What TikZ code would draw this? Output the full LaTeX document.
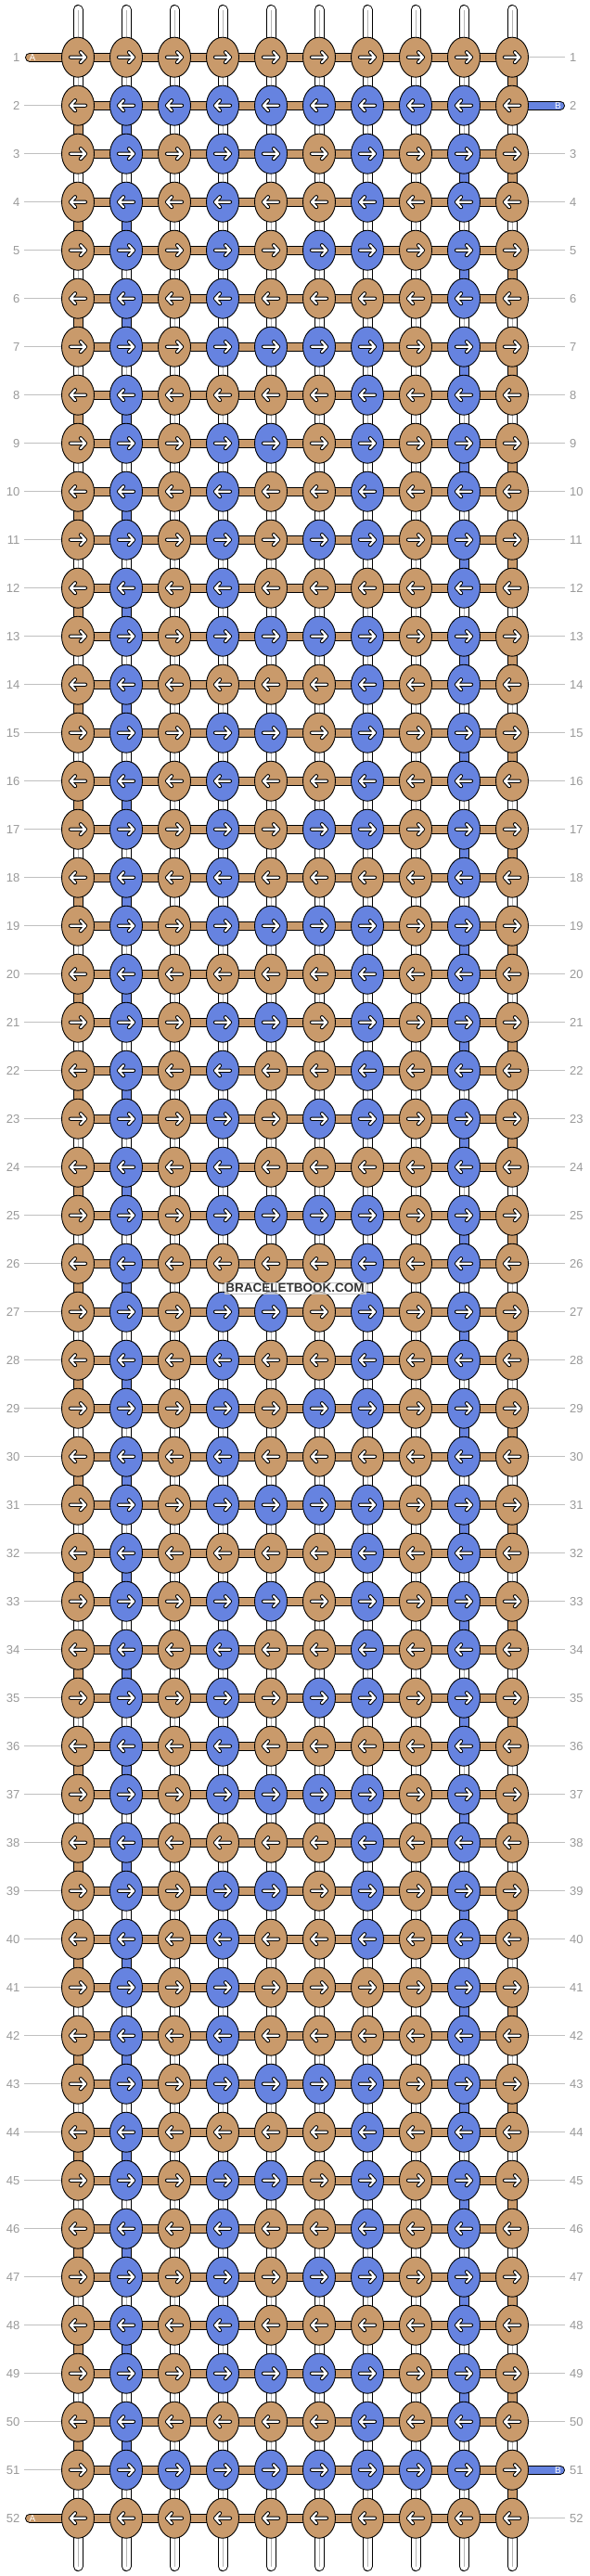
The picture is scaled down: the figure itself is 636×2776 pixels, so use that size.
\documentclass[tikz,border=0pt]{standalone}
\usepackage{fontspec}
\setmainfont{Liberation Sans}
\usetikzlibrary{shapes.geometric}
\pgfdeclarelayer{bg}
\pgfsetlayers{bg,main}
\definecolor{colA}{HTML}{C99A6B}
\definecolor{colB}{HTML}{6683E0}
\definecolor{lblgray}{HTML}{999999}
\definecolor{linegray}{HTML}{C0C0C0}
\definecolor{coregray}{HTML}{B4B4B4}
\definecolor{wmtext}{HTML}{333333}
\tikzset{
  knot/.style={ellipse, draw=black, line width=0.9pt, minimum width=35pt, minimum height=43pt, inner sep=0pt},
  hthread/.style={draw=black, line width=1pt, double=#1, double distance=8pt},
  vthread/.style={draw=black, line width=1pt, double=#1, double distance=9pt},
  tube/.style={draw=black, line width=1pt, double=white, double distance=9pt, line cap=round},
  core/.style={draw=coregray, line width=0.7pt},
  tailthread/.style={draw=black, line width=1pt, double=#1, double distance=8pt, line cap=round},
  arrowback/.style={draw=black, line width=4.2pt, line cap=round, line join=round},
  arrowfront/.style={draw=white, line width=2.2pt, line cap=round, line join=round},
  rowlabel/.style={text=lblgray, font=\fontsize{13}{15}\selectfont, inner sep=0pt},
  labelline/.style={draw=linegray, line width=0.9pt},
  tailtext/.style={text=white, font=\fontsize{10}{12}\selectfont, inner sep=0pt},
  watermark/.style={font=\bfseries\fontsize{13.5}{15}\selectfont, text=wmtext, fill=white, fill opacity=0.6, text opacity=1, draw=gray!45, inner sep=1.5pt}
}
\begin{document}
\begin{tikzpicture}[x=1pt,y=-1pt]
\useasboundingbox (0,0) rectangle (636,2776);
% knots
\foreach \v [count=\r] in {0,510,
  362,330,346,322,378,266,
  362,330,346,322,378,266,
  362,330,346,322,378,266,
  362,330,346,322,378,266,
  362,330,346,322,378,266,
  362,330,346,322,378,266,
  362,330,322,322,378,266,
  362,330,346,322,378,266,
  510,0} {
  \pgfmathsetmacro\yy{61.7+52*(\r-1)}
  \foreach \c in {1,...,10} {
    \pgfmathtruncatemacro\bit{mod(floor(\v/(2^(10-\c))),2)}
    \ifnum\bit=1 \def\kc{colB}\else\def\kc{colA}\fi
    \node[knot, fill=\kc] (k-\r-\c) at ({84+52*(\c-1)},\yy) {};
    \ifodd\r \def\dir{1}\else\def\dir{-1}\fi
    \begin{scope}[shift={(k-\r-\c.center)}, xscale=\dir]
      \draw[arrowback] (-8,0) -- (8,0) (3,-5.5) -- (8,0) -- (3,5.5);
      \draw[arrowfront] (-8,0) -- (8,0) (3,-5.5) -- (8,0) -- (3,5.5);
    \end{scope}
  }
  % row labels
  \node[rowlabel, anchor=east] (ll-\r) at (21.5,\yy) {\r};
  \node[rowlabel, anchor=west] (rl-\r) at (614,\yy) {\r};
}
\begin{pgfonlayer}{bg}
  % horizontal threads
  \foreach \r in {1,...,52} {
    \foreach \c [evaluate=\c as \n using int(\c+1)] in {1,...,9} {
      \draw[hthread=colA] (k-\r-\c.center) -- (k-\r-\n.center);
    }
  }
  % vertical threads
  \foreach \r [evaluate=\r as \n using int(\r+1)] in {1,...,51} {
    \foreach \c in {1,...,10} {
      \pgfmathtruncatemacro\vt{(\c==10 && isodd(\r)) ? 1 : ((\c==1 && iseven(\r)) ? 1 : ((\c==2 && iseven(\r)) ? 2 : ((\c==9 && isodd(\r) && \r>2 && \r<50) ? 2 : 0)))}
      \ifcase\vt
        \draw[vthread=white] (k-\r-\c.center) -- (k-\n-\c.center);
        \draw[core] (k-\r-\c.center) -- (k-\n-\c.center);
      \or
        \draw[vthread=colA] (k-\r-\c.center) -- (k-\n-\c.center);
      \or
        \draw[vthread=colB] (k-\r-\c.center) -- (k-\n-\c.center);
      \fi
    }
  }
  % top and bottom tubes
  \foreach \c in {1,...,10} {
    \coordinate (top-\c) at ({84+52*(\c-1)},10.5);
    \coordinate (bot-\c) at ({84+52*(\c-1)},2765.5);
    \draw[tube] (top-\c) -- (k-1-\c.center);
    \draw[core] (top-\c) -- (k-1-\c.center);
    \draw[tube] (bot-\c) -- (k-52-\c.center);
    \draw[core] (bot-\c) -- (k-52-\c.center);
  }
  % label lines
  \foreach \r in {2,...,51} {
    \coordinate (lle-\r) at (26,{61.7+52*(\r-1)});
    \draw[labelline] (lle-\r) -- (k-\r-1.center);
  }
  \foreach \r in {1,3,4,...,50,52} {
    \coordinate (rle-\r) at (609,{61.7+52*(\r-1)});
    \draw[labelline] (rle-\r) -- (k-\r-10.center);
  }
  % tails
  \coordinate (ta-1) at (32,61.7);
  \coordinate (ta-52) at (32,2713.7);
  \coordinate (tb-2) at (604,113.7);
  \coordinate (tb-51) at (604,2661.7);
  \draw[tailthread=colA] (ta-1) -- (k-1-1.center);
  \draw[tailthread=colA] (ta-52) -- (k-52-1.center);
  \draw[tailthread=colB] (tb-2) -- (k-2-10.center);
  \draw[tailthread=colB] (tb-51) -- (k-51-10.center);
\end{pgfonlayer}
\node[tailtext] (tat-1) at (35,61.7) {A};
\node[tailtext] (tat-52) at (35,2713.7) {A};
\node[tailtext] (tbt-2) at (601.5,113.7) {B};
\node[tailtext] (tbt-51) at (601.5,2661.7) {B};
\node[watermark] (wm) at (318,1388) {BRACELETBOOK.COM};
\end{tikzpicture}
\end{document}
